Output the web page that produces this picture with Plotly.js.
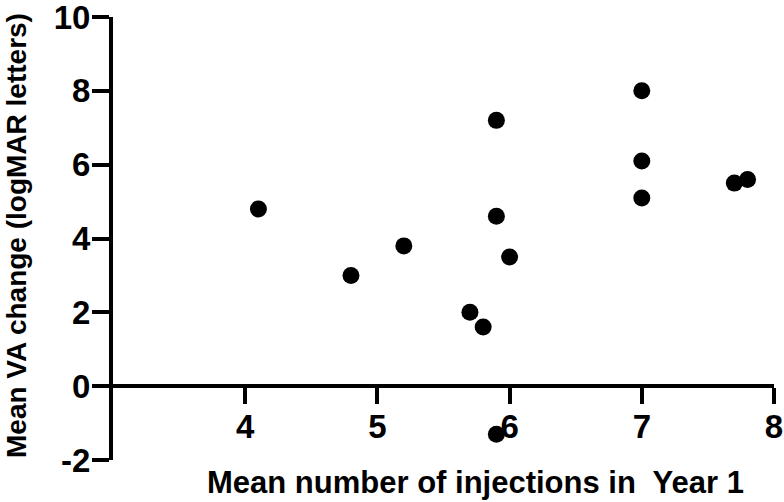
<!DOCTYPE html>
<html>
<head>
<meta charset="utf-8">
<script src="https://cdn.plot.ly/plotly-3.0.1.min.js"></script>
<style>
  html, body { margin: 0; padding: 0; background: white; }
  #plot01 { width: 784px; height: 502px; }
</style>
</head>
<body>
<div id="plot01"></div>
<script>
// mean injections in year 1 vs mean VA change
const injections = [4.1, 4.8, 5.2, 5.7, 5.8, 5.9, 5.9, 5.9, 6.0, 7.0, 7.0, 7.0, 7.7, 7.8];
const vaChange = [4.8, 3.0, 3.8, 2.0, 1.6, 7.2, 4.6, -1.3, 3.5, 8.0, 6.1, 5.1, 5.5, 5.6];
const xTicks = [4, 5, 6, 7, 8];
const yTicks = [-2, 0, 2, 4, 6, 8, 10];
const xRange = [3, 8];
const yRange = [-2, 10];

window.addEventListener('load', (event) => {
    initPlot();
});

function initPlot() {
    const boldFont = (size) => ({
        family: 'Liberation Sans, Arial, sans-serif',
        size: size,
        weight: 'bold',
        color: 'black'
    });

    const data = [{
        type: 'scatter',
        x: injections,
        y: vaChange,
        mode: 'markers',
        marker: { color: 'black', size: 17, symbol: 'circle' },
        hoverinfo: 'skip',
        cliponaxis: false
    }];

    // x axis sits on y = 0
    const xPos = (0 - yRange[0]) / (yRange[1] - yRange[0]);

    const axisCommon = {
        showgrid: false,
        zeroline: false,
        showline: true,
        linecolor: 'black',
        linewidth: 4,
        ticks: 'outside',
        ticklen: 17,
        tickwidth: 4,
        tickcolor: 'black',
        tickfont: boldFont(33),
        ticklabeloverflow: 'allow',
        fixedrange: true
    };

    const layout = {
        width: 784,
        height: 502,
        margin: { l: 113, r: 10, t: 17, b: 42 },
        paper_bgcolor: 'white',
        plot_bgcolor: 'white',
        showlegend: false,
        hovermode: false,
        xaxis: Object.assign({}, axisCommon, {
            range: xRange,
            tickmode: 'array',
            tickvals: xTicks,
            ticktext: xTicks.map(String),
            anchor: 'free',
            position: xPos,
            ticklen: 16,
            ticklabelstandoff: -6
        }),
        yaxis: Object.assign({}, axisCommon, {
            range: yRange,
            tickmode: 'array',
            tickvals: yTicks,
            ticktext: yTicks.map(String),
            anchor: 'x',
            ticklabelstandoff: -5
        }),
        annotations: [{
            xref: 'paper', yref: 'paper',
            x: (475 - 113) / 661, y: -0.05,
            xanchor: 'center', yanchor: 'middle',
            text: 'Mean number of injections in  Year 1',
            showarrow: false,
            font: boldFont(31)
        }, {
            xref: 'paper', yref: 'paper',
            x: -0.145, y: 0.506,
            xanchor: 'center', yanchor: 'middle',
            textangle: -90,
            text: 'Mean VA change (logMAR letters)',
            showarrow: false,
            font: boldFont(28)
        }]
    };

    const config = {
        displayModeBar: false,
        responsive: false,
        staticPlot: true
    };

    Plotly.newPlot('plot01', data, layout, config);
}
</script>
</body>
</html>
